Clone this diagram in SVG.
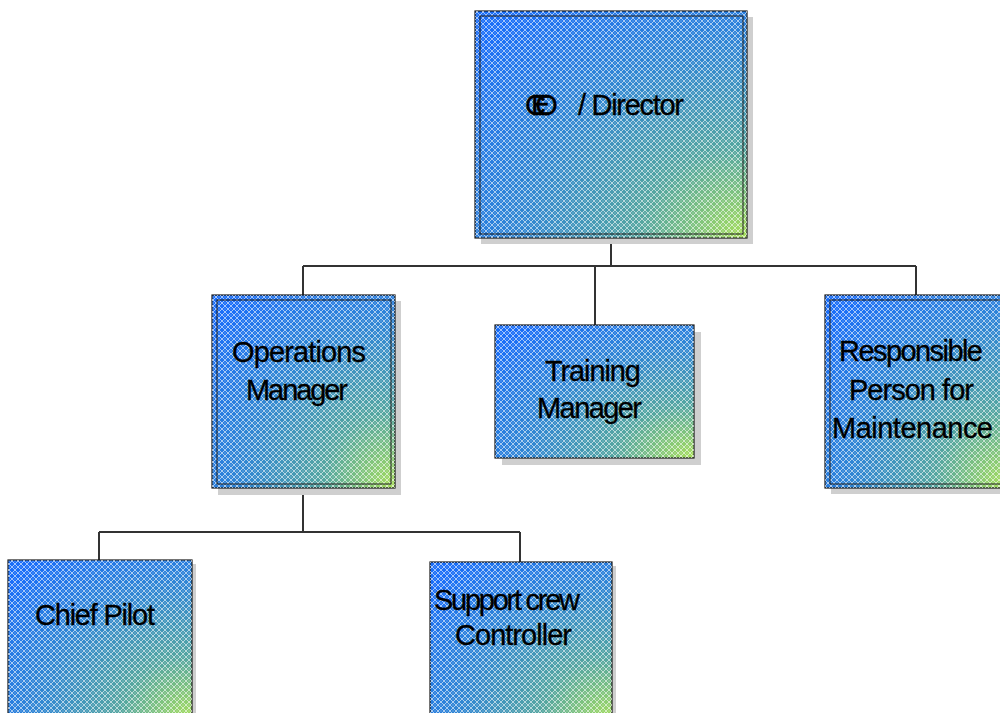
<svg xmlns="http://www.w3.org/2000/svg" width="1000" height="713" viewBox="0 0 1000 713">
<defs>
<radialGradient id="bg" cx="1" cy="1" r="1.3" fx="1" fy="1">
<stop offset="0" stop-color="#a8e05a"/>
<stop offset="0.3" stop-color="#55a6a0"/>
<stop offset="0.62" stop-color="#3288d0"/>
<stop offset="1" stop-color="#1a6ef8"/>
</radialGradient>
<pattern id="hatch" patternUnits="userSpaceOnUse" width="6" height="6">
<path d="M0 3 L3 0 L6 3 L3 6 Z" fill="none" stroke="#ffffff" stroke-opacity="0.6" stroke-width="1"/>
<circle cx="3" cy="3" r="0.7" fill="#ffffff" fill-opacity="0.35"/>
</pattern>
<style>
.sh{fill:#cfcfcf}
.bx{fill:url(#bg);stroke:#1a1a1a;stroke-width:1.2}
.hx{fill:url(#hatch);stroke:none}
.in{fill:none;stroke:#1a1a1a;stroke-width:1}
.t{font-family:"Liberation Sans",Arial,sans-serif;font-size:29px;fill:#000;stroke:#000;stroke-width:0.3}
.c{fill:none;stroke:#333;stroke-width:2}
</style>
</defs>
<g id="connectors">
<path class="c" d="M611 238 V266 M303 266 H916 M303 266 V295 M595 266 V325 M916 266 V295"/>
<path class="c" d="M303 488 V532 M99 532 H520 M99 532 V560 M520 532 V562"/>
</g>
<g id="ceo">
<rect class="sh" x="481" y="17" width="272" height="227"/>
<rect class="bx" x="475" y="11" width="272" height="227"/>
<rect class="hx" x="475" y="11" width="272" height="227"/>
<rect class="in" x="480" y="16" width="263" height="218"/>
<text class="t" x="525" y="115"><tspan letter-spacing="-15">CEO</tspan><tspan x="578" letter-spacing="-1.3">/ Director</tspan></text>
</g>
<g id="ops">
<rect class="sh" x="218" y="301" width="183" height="194"/>
<rect class="bx" x="212" y="295" width="183" height="193"/>
<rect class="hx" x="212" y="295" width="183" height="193"/>
<rect class="in" x="217" y="300" width="174" height="184"/>
<text class="t" x="232" y="362" textLength="134">Operations</text>
<text class="t" x="246" y="400" textLength="102">Manager</text>
</g>
<g id="training">
<rect class="sh" x="502" y="332" width="199" height="133"/>
<rect class="bx" x="495" y="325" width="199" height="133"/>
<rect class="hx" x="495" y="325" width="199" height="133"/>
<text class="t" x="545" y="381" textLength="96">Training</text>
<text class="t" x="537" y="418" textLength="105">Manager</text>
</g>
<g id="maint">
<rect class="sh" x="831" y="301" width="180" height="193"/>
<rect class="bx" x="825" y="295" width="180" height="193"/>
<rect class="hx" x="825" y="295" width="180" height="193"/>
<rect class="in" x="830" y="300" width="180" height="184"/>
<text class="t" x="839" y="361" textLength="144">Responsible</text>
<text class="t" x="849" y="400" textLength="125">Person for</text>
<text class="t" x="832" y="438" textLength="161">Maintenance</text>
</g>
<g id="chief">
<rect class="sh" x="12" y="564" width="184" height="160"/>
<rect class="bx" x="8" y="560" width="184" height="160"/>
<rect class="hx" x="8" y="560" width="184" height="160"/>
<text class="t" x="35" y="625" textLength="120">Chief Pilot</text>
</g>
<g id="support">
<rect class="sh" x="434" y="566" width="182" height="160"/>
<rect class="bx" x="430" y="562" width="182" height="160"/>
<rect class="hx" x="430" y="562" width="182" height="160"/>
<text class="t" x="434" y="610" textLength="146">Support crew</text>
<text class="t" x="455" y="645" textLength="117">Controller</text>
</g>
</svg>
